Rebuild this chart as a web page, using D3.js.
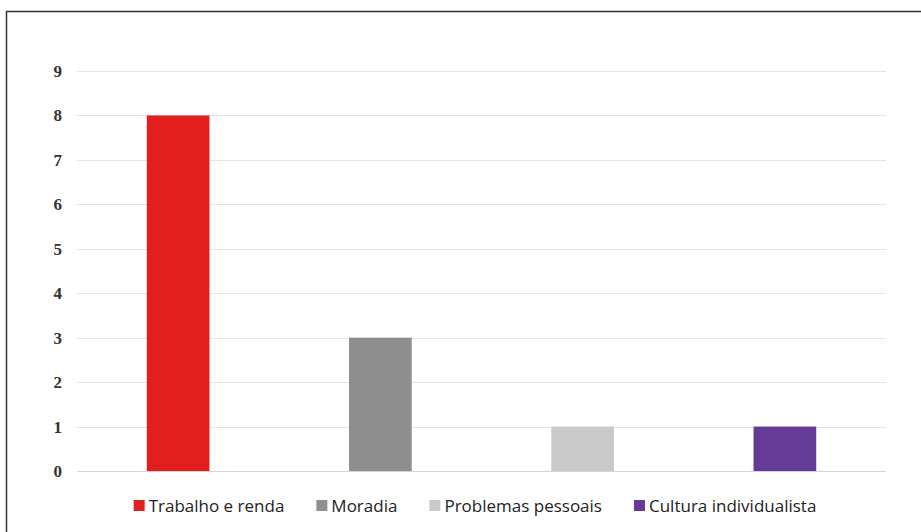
<!DOCTYPE html>
<html>
<head>
<meta charset="utf-8">
<script src="https://cdn.jsdelivr.net/npm/d3@7"></script>
<style>
  body { margin: 0; background: #fff; }
  svg { display: block; }
</style>
</head>
<body>
<svg id="chart" width="921" height="532"></svg>
<script>
// data
var categories = ["Trabalho e renda", "Moradia", "Problemas pessoais", "Cultura individualista"];
var values = [8, 3, 1, 1];
var colors = ["#e21f1f", "#8e8e8e", "#c9c9c9", "#663a97"];
var yTicks = [0, 1, 2, 3, 4, 5, 6, 7, 8, 9];

// layout
var W = 921, H = 532;
var m = {left: 77, right: 35, top: 71, bottom: 61};

var svg = d3.select("#chart");

// frame (only top and left visible in the crop)
svg.append("line").attr("x1", 6).attr("x2", W).attr("y1", 11.5).attr("y2", 11.5)
    .attr("stroke", "#333").attr("stroke-width", 1.5);
svg.append("line").attr("x1", 6.5).attr("x2", 6.5).attr("y1", 11).attr("y2", H)
    .attr("stroke", "#333").attr("stroke-width", 1.5);

var x = d3.scaleBand()
    .domain(categories)
    .range([m.left, W - m.right])
    .paddingInner(0.69)
    .paddingOuter(0.345);

var y = d3.scaleLinear()
    .domain([0, 9])
    .range([H - m.bottom, m.top]);

// gridlines
svg.append("g").selectAll("line")
    .data(yTicks)
    .join("line")
    .attr("x1", m.left).attr("x2", W - m.right)
    .attr("y1", d => Math.round(y(d)) + 0.5)
    .attr("y2", d => Math.round(y(d)) + 0.5)
    .attr("stroke", d => d === 0 ? "#d4d4d4" : "#e4e4e4")
    .attr("stroke-width", 1.2);

// y axis labels
var yAxis = d3.axisLeft(y).tickValues(yTicks).tickSize(0).tickPadding(0);
var gy = svg.append("g").attr("transform", "translate(62,0)").call(yAxis);
gy.select(".domain").remove();
gy.selectAll("text")
    .attr("font-family", "'Liberation Serif', 'DejaVu Serif', serif")
    .attr("font-weight", "bold")
    .attr("font-size", 17)
    .attr("fill", "#333");

// bars
svg.append("g").selectAll("rect")
    .data(categories)
    .join("rect")
    .attr("x", d => x(d))
    .attr("width", x.bandwidth())
    .attr("y", (d, i) => y(values[i]))
    .attr("height", (d, i) => y(0) - y(values[i]))
    .attr("fill", (d, i) => colors[i]);

// legend
var legend = svg.append("g").attr("transform", "translate(0,506)");
var items = legend.selectAll("g")
    .data(categories)
    .join("g");
items.append("rect")
    .attr("width", 11).attr("height", 11)
    .attr("y", -6)
    .attr("fill", (d, i) => colors[i]);
items.append("text")
    .attr("x", 15)
    .attr("dy", "0.35em")
    .attr("font-family", "'Open Sans', 'Liberation Sans', sans-serif")
    .attr("font-size", 17)
    .attr("fill", "#222")
    .text(d => d);

var gap = 32, pos = [], total = 0;
items.each(function(d, i) {
    var w = this.getBBox().width;
    pos.push(total);
    total += w + (i < categories.length - 1 ? gap : 0);
});
var start = 475 - total / 2;
items.attr("transform", (d, i) => "translate(" + (start + pos[i]) + ",0)");
</script>
</body>
</html>
